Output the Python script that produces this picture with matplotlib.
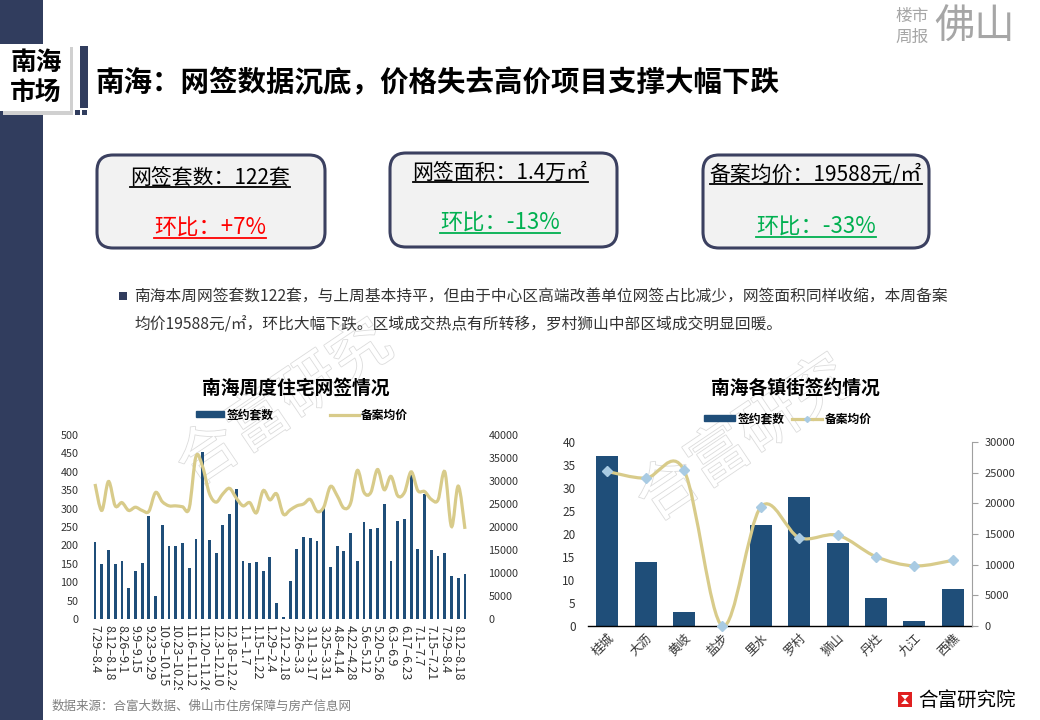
import numpy as np
import matplotlib
matplotlib.use("Agg")
import matplotlib.pyplot as plt
from matplotlib.patches import Rectangle, FancyBboxPatch, PathPatch, Polygon, Patch
from matplotlib.lines import Line2D
from matplotlib.path import Path
from matplotlib.transforms import Bbox, TransformedBbox
import matplotlib.patheffects as pe

plt.rcParams['font.family'] = ['Noto Sans CJK SC', 'DejaVu Sans']
plt.rcParams['axes.unicode_minus'] = False

# ---- data: weekly chart ----
weeks = ["7.29–8.4", "8.5–8.11", "8.12–8.18", "8.19–8.25", "8.26–9.1", "9.2–9.8",
         "9.9–9.15", "9.16–9.22", "9.23–9.29", "9.30–10.8", "10.9–10.15", "10.16–10.22",
         "10.23–10.29", "10.30–11.5", "11.6–11.12", "11.13–11.19", "11.20–11.26", "11.27–12.2",
         "12.3–12.10", "12.11–12.17", "12.18–12.24", "12.25–12.31", "1.1–1.7", "1.8–1.14",
         "1.15–1.22", "1.23–1.28", "1.29–2.4", "2.5–2.11", "2.12–2.18", "2.19–2.25",
         "2.26–3.3", "3.4–3.10", "3.11–3.17", "3.18–3.24", "3.25–3.31", "4.1–4.7",
         "4.8–4.14", "4.15–4.21", "4.22–4.28", "4.29–5.5", "5.6–5.12", "5.13–5.19",
         "5.20–5.26", "5.27–6.2", "6.3–6.9", "6.10–6.16", "6.17–6.23", "6.24–6.30",
         "7.1–7.7", "7.8–7.14", "7.15–7.21", "7.22–7.28", "7.29–8.4", "8.5–8.11",
         "8.12–8.18", "8.19–8.25"]
week_units = [210, 150, 188, 150, 158, 85, 131, 153, 280, 63, 256, 199, 199, 207,
              139, 218, 454, 215, 180, 256, 286, 354, 158, 153, 156, 131, 169, 44,
              6, 104, 191, 223, 221, 212, 302, 142, 199, 185, 234, 158, 264, 245,
              248, 313, 158, 267, 272, 394, 191, 340, 188, 172, 180, 118, 112, 122]
week_price = [29360, 23600, 29900, 24600, 25300, 23600, 24300, 23600, 23400, 27500,
              25500, 24600, 24600, 24400, 24100, 35300, 33100, 27300, 25400, 27200,
              28400, 26300, 24600, 25300, 23100, 27900, 25900, 27200, 22800, 23700,
              24600, 25000, 26000, 23400, 24300, 28800, 26800, 24100, 25200, 32300,
              27500, 27500, 32500, 28100, 31000, 26800, 27500, 32000, 27900, 27700,
              26000, 25900, 32000, 20100, 28900, 19588]

# ---- data: town chart ----
towns = ["桂城", "大沥", "黄岐", "盐步", "里水", "罗村", "狮山", "丹灶", "九江", "西樵"]
town_units = [37, 14, 3, 0, 22, 28, 18, 6, 1, 8]
town_price = [25200, 24100, 25400, 0, 19400, 14400, 14800, 11300, 9800, 10700]

BAR = '#1F4E79'
LINE = '#D8CB8A'
NAVY = '#313D5E'
TXT = '#333333'
W, H = 1040, 720


def rect(x0, y0, x1, y1):
    return [x0 / W, 1 - y1 / H, (x1 - x0) / W, (y1 - y0) / H]


def smooth_path(xs, ys):
    # excel-like smoothed line: bezier segments through the points
    pts = np.column_stack([xs, ys]).astype(float)
    n = len(pts)
    verts = [pts[0]]
    codes = [Path.MOVETO]
    for i in range(n - 1):
        p0 = pts[i - 1] if i > 0 else pts[i]
        p1, p2 = pts[i], pts[i + 1]
        p3 = pts[i + 2] if i + 2 < n else pts[i + 1]
        verts += [p1 + (p2 - p0) / 6, p2 - (p3 - p1) / 6, p2]
        codes += [Path.CURVE4] * 3
    return Path(verts, codes)


fig = plt.figure(figsize=(10.4, 7.2), dpi=100)
fig.patch.set_facecolor('white')

# background layer in pixel coordinates
bg = fig.add_axes([0, 0, 1, 1], zorder=-10)
bg.set_xlim(0, W)
bg.set_ylim(H, 0)
bg.set_autoscale_on(False)
bg.axis('off')

bg.add_patch(Rectangle((0, 0), 43, H, color=NAVY, lw=0))
# section tag with shadow
bg.add_patch(Rectangle((3, 47), 70, 68, color='#d0d0d0', lw=0))
bg.add_patch(Rectangle((0, 44), 70, 67, color='white', lw=0))
bg.add_patch(Rectangle((80, 46), 8, 62, color=NAVY, lw=0))
bg.add_patch(Rectangle((75, 110), 5, 5, color=NAVY, lw=0))
bg.add_patch(Rectangle((82, 110), 5, 5, color=NAVY, lw=0))
bg.text(36, 62, "南海", fontsize=18.5, fontweight='bold', ha='center', va='center')
bg.text(36, 93, "市场", fontsize=18.5, fontweight='bold', ha='center', va='center')
bg.text(95, 83, "南海：网签数据沉底，价格失去高价项目支撑大幅下跌", fontsize=20.5,
        fontweight='bold', ha='left', va='center')

# top-right logo
bg.text(912, 17, "楼市", fontsize=12, color='#a6a6a6', ha='center', va='center')
bg.text(912, 37, "周报", fontsize=12, color='#a6a6a6', ha='center', va='center')
bg.text(975, 27, "佛山", fontsize=29, color='#a6a6a6', ha='center', va='center')

# watermarks
for wx, wy in [(285, 405), (745, 440)]:
    bg.text(wx, wy, "合富研究", fontsize=44, rotation=34, color='white', ha='center',
            va='center', path_effects=[pe.withStroke(linewidth=1.2, foreground='#dcdcdc')])

# KPI boxes
boxes = [(97, 155, 325, 248, "网签套数：122套", "环比：+7%", '#FF0000', 210, 178, 228),
         (390, 153, 617, 247, "网签面积：1.4万㎡", "环比：-13%", '#00B050', 500, 173, 223),
         (703, 155, 929, 248, "备案均价：19588元/㎡", "环比：-33%", '#00B050', 816, 175, 227)]
texts = []
for x0, y0, x1, y1, head, sub, col, cx, hy, sy in boxes:
    bg.add_patch(FancyBboxPatch((x0, y0), x1 - x0, y1 - y0,
                                boxstyle="round,pad=0,rounding_size=16",
                                fc='#F2F2F2', ec='#3B4060', lw=2.2))
    t1 = bg.text(cx, hy, head, fontsize=15, ha='center', va='center', color='black')
    t2 = bg.text(cx, sy, sub, fontsize=16, ha='center', va='center', color=col)
    texts += [(t1, 'black'), (t2, col)]

# underline the box texts
renderer = fig.canvas.get_renderer()
inv = bg.transData.inverted()
for t, col in texts:
    bb = t.get_window_extent(renderer=renderer)
    (ux0, uy0), (ux1, uy1) = inv.transform([[bb.x0, bb.y0], [bb.x1, bb.y1]])
    bg.plot([ux0, ux1], [uy0 - 2, uy0 - 2], color=col, lw=1.3)

# bullet text
bg.add_patch(Rectangle((119, 292), 8, 8, color=NAVY, lw=0))
bg.text(134, 297, "南海本周网签套数122套，与上周基本持平，但由于中心区高端改善单位网签占比减少，网签面积同样收缩，本周备案",
        fontsize=11.3, ha='left', va='center', color=TXT)
bg.text(134, 325, "均价19588元/㎡，环比大幅下跌。区域成交热点有所转移，罗村狮山中部区域成交明显回暖。",
        fontsize=11.3, ha='left', va='center', color=TXT)

# footer
bg.text(52, 706, "数据来源：合富大数据、佛山市住房保障与房产信息网", fontsize=9,
        color='#7f7f7f', ha='left', va='center')
bg.add_patch(Rectangle((898, 692), 14, 15, color='#E02020', lw=0))
bg.add_patch(Polygon([[901, 695], [909, 695], [905, 699.5], [909, 704], [901, 704], [905, 699.5]],
                     closed=True, color='white', lw=0))
bg.text(918, 700, "合富研究院", fontsize=14, ha='left', va='center', color='black')

# ---- left chart ----
ax1 = fig.add_axes(rect(91, 435, 469, 619))
ax1.set_facecolor('none')
x1 = np.arange(len(weeks))
ax1.bar(x1, week_units, width=0.42, color=BAR, zorder=2)
ax1.set_xlim(-0.6, len(weeks) - 0.4)
ax1.set_ylim(0, 500)
ax1.set_yticks(range(0, 501, 50))
ax1.set_xticks(x1[::2])
ax1.set_xticklabels(weeks[::2], rotation=-90, fontsize=9, color=TXT, va='top', ha='center')
for s in ax1.spines.values():
    s.set_visible(False)
ax1.tick_params(axis='y', length=0, labelsize=7.8, labelcolor=TXT, pad=9)
ax1.tick_params(axis='x', length=0, pad=4)
ax1b = ax1.twinx()
ax1b.set_ylim(0, 40000)
ax1b.set_yticks(range(0, 40001, 5000))
for s in ax1b.spines.values():
    s.set_visible(False)
ax1b.tick_params(axis='y', length=0, labelsize=7.8, labelcolor=TXT, pad=14)
ax1b.add_patch(PathPatch(smooth_path(x1, week_price), fill=False, ec=LINE, lw=2.3, zorder=3))

clip = TransformedBbox(Bbox([[0, 1 - 690 / H], [1, 1]]), fig.transFigure)
for lbl in ax1.get_xticklabels():
    lbl.set_clip_box(clip)
    lbl.set_clip_on(True)

bg.text(296, 388, "南海周度住宅网签情况", fontsize=13.5, fontweight='bold', ha='center', va='center')
ax1.legend([Patch(color=BAR), Line2D([], [], color=LINE, lw=2.3)], ["签约套数", "备案均价"],
           loc='center', bbox_to_anchor=(302 / W, 1 - 415 / H), bbox_transform=fig.transFigure,
           ncol=2, frameon=False, prop={'size': 8.5, 'weight': 'bold'}, handlelength=2.4,
           handleheight=0.35, columnspacing=4.8, handletextpad=0.2)

# ---- right chart ----
ax2 = fig.add_axes(rect(588, 442, 972, 626))
ax2.set_facecolor('none')
x2 = np.arange(len(towns))
ax2.bar(x2, town_units, width=0.57, color=BAR, zorder=2)
ax2.set_xlim(-0.5, len(towns) - 0.5)
ax2.set_ylim(0, 40)
ax2.set_yticks(range(0, 41, 5))
ax2.set_xticks(x2)
ax2.set_xticklabels(towns, rotation=45, ha='right', rotation_mode='anchor', fontsize=9, color=TXT)
for k in ['top', 'left', 'right']:
    ax2.spines[k].set_visible(False)
ax2.spines['bottom'].set_color('black')
ax2.spines['bottom'].set_linewidth(1)
ax2.tick_params(axis='y', length=0, labelsize=8.5, labelcolor=TXT, pad=9)
ax2.tick_params(axis='x', length=0, pad=4)
ax2b = ax2.twinx()
ax2b.set_ylim(0, 30000)
ax2b.set_yticks(range(0, 30001, 5000))
for k in ['top', 'left', 'bottom']:
    ax2b.spines[k].set_visible(False)
ax2b.spines['right'].set_color('#a0a0a0')
ax2b.tick_params(axis='y', length=4, color='#a0a0a0', labelsize=8, labelcolor=TXT, pad=5)
ax2b.add_patch(PathPatch(smooth_path(x2, town_price), fill=False, ec=LINE, lw=2.3, zorder=3))
ax2b.plot(x2, town_price, linestyle='none', marker='D', ms=5.5, color='#A9CBE3', zorder=4, clip_on=False)

bg.text(795, 388, "南海各镇街签约情况", fontsize=13.5, fontweight='bold', ha='center', va='center')
ax2.legend([Patch(color=BAR), Line2D([], [], color=LINE, lw=2.3, marker='D', ms=3, mfc='#A9CBE3', mec='#A9CBE3')],
           ["签约套数", "备案均价"],
           loc='center', bbox_to_anchor=(788 / W, 1 - 419 / H), bbox_transform=fig.transFigure,
           ncol=2, frameon=False, prop={'size': 8.5, 'weight': 'bold'}, handlelength=2.6,
           handleheight=0.35, columnspacing=0.6, handletextpad=0.2)

fig.savefig("out.png", dpi=100)
